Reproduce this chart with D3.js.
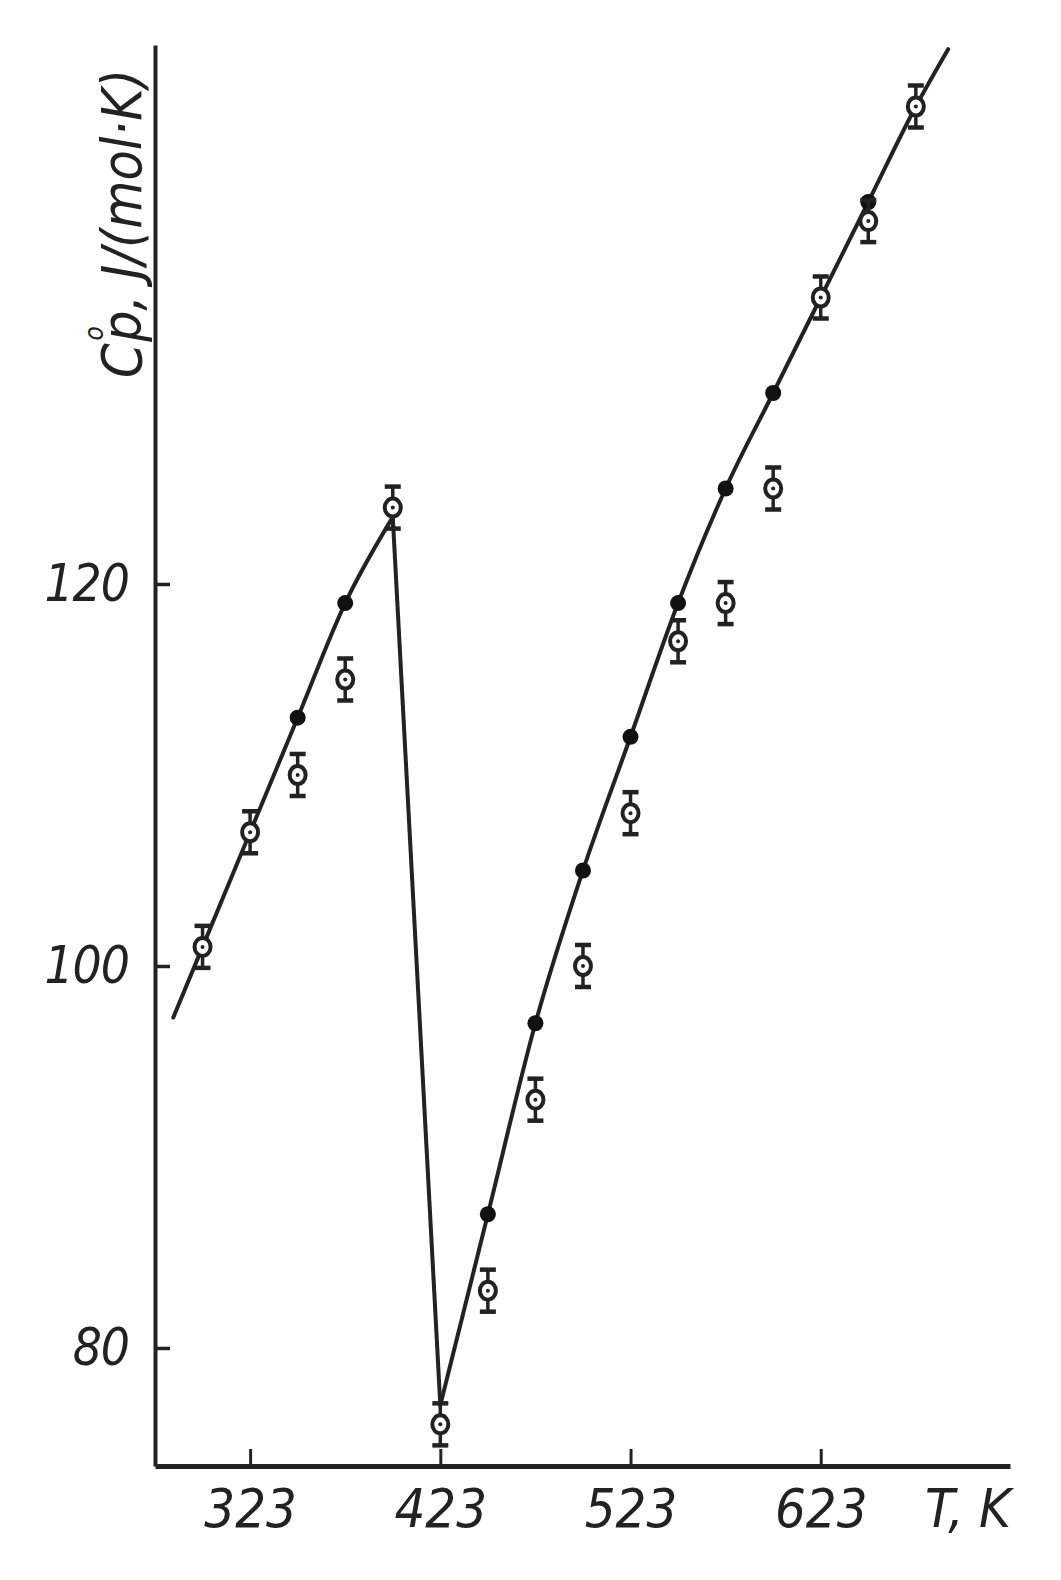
<!DOCTYPE html>
<html>
<head>
  <meta charset="utf-8">
  <title>Cp vs T</title>
  <script src="https://cdn.jsdelivr.net/npm/d3@7"></script>
  <style>
    body { margin: 0; background: #fff; }
    svg text {
      font-family: "Liberation Sans Narrow", "DejaVu Sans Condensed", "Arial Narrow", sans-serif;
      font-style: italic;
      fill: #222;
    }
  </style>
</head>
<body>
  <div id="chart"></div>
  <script>
    // open circles with error bars (experimental)
    const tempsOpen = [298, 323, 348, 373, 398, 423, 448, 473, 498, 523, 548, 573, 598, 623, 648, 673];
    const cpOpen    = [101, 107, 110, 115, 124, 76, 83, 93, 100, 108, 117, 119, 125, 135, 139, 145];
    const cpErr     = [1.1, 1.1, 1.1, 1.1, 1.1, 1.1, 1.1, 1.1, 1.1, 1.1, 1.1, 1.1, 1.1, 1.1, 1.1, 1.1];

    // filled dots
    const tempsSolid = [348, 373, 448, 473, 498, 523, 548, 573, 598, 648];
    const cpSolid    = [113, 119, 87, 97, 105, 112, 119, 125, 130, 140];

    // curve: left branch, then sharp drop, then right branch
    const lineLeftT  = [282.6, 298, 323, 348, 373, 398];
    const lineLeftCp = [97.3, 101, 107, 113, 119, 123.5];
    const lineRightT  = [423, 448, 473, 498, 523, 548, 573, 598, 623, 648, 673, 690];
    const lineRightCp = [77, 87, 97, 105, 112, 119, 125, 130, 135, 140, 145, 148];

    const xTicks = [323, 423, 523, 623];
    const yTicks = [80, 100, 120];

    const width = 1061, height = 1580;
    const ink = "#222";

    const x = d3.scaleLinear().domain([273, 722.5]).range([155, 1010]);
    const y = d3.scaleLinear().domain([73.82, 148.22]).range([1466, 45]);

    const svg = d3.select("#chart").append("svg")
        .attr("width", width)
        .attr("height", height);

    // x axis, ticks pointing up
    const gx = svg.append("g")
        .attr("transform", `translate(0,${y.range()[0]})`)
        .call(d3.axisBottom(x).tickValues(xTicks).tickSize(-17).tickSizeOuter(0).tickFormat(d3.format("d")));
    gx.select(".domain").attr("stroke", ink).attr("stroke-width", 5);
    gx.selectAll(".tick line").attr("stroke", ink).attr("stroke-width", 3);
    gx.selectAll(".tick text")
        .attr("y", 61).attr("dy", 0)
        .attr("font-size", 54)
        .attr("font-family", null);

    // y axis, ticks pointing right
    const gy = svg.append("g")
        .attr("transform", `translate(${x.range()[0]},0)`)
        .call(d3.axisLeft(y).tickValues(yTicks).tickSize(-15).tickSizeOuter(0));
    gy.select(".domain").attr("stroke", ink).attr("stroke-width", 4);
    gy.selectAll(".tick line").attr("stroke", ink).attr("stroke-width", 3.5);
    gy.selectAll(".tick text")
        .attr("x", -26).attr("dy", "0.33em")
        .attr("font-size", 51)
        .attr("letter-spacing", -1)
        .attr("font-family", null);

    // axis titles
    svg.append("text")
        .attr("x", 925).attr("y", 1527)
        .attr("font-size", 54)
        .text("T, K");

    const ylab = svg.append("text")
        .attr("transform", "translate(141,378) rotate(-90)")
        .attr("font-size", 55);
    ylab.append("tspan").text("C");
    ylab.append("tspan").attr("font-size", 26).attr("dy", -38).attr("dx", 3).text("o");
    ylab.append("tspan").attr("dy", 38).attr("dx", -16).text("p, J/(mol·K)");

    // curve
    const lineGen = d3.line().x(d => x(d[0])).y(d => y(d[1])).curve(d3.curveMonotoneX);
    const left = lineLeftT.map((t, i) => [t, lineLeftCp[i]]);
    const right = lineRightT.map((t, i) => [t, lineRightCp[i]]);
    const drop = [left[left.length - 1], right[0]];

    [left, right].forEach(seg => {
      svg.append("path").attr("d", lineGen(seg))
        .attr("fill", "none").attr("stroke", ink).attr("stroke-width", 4)
        .attr("stroke-linecap", "round");
    });
    svg.append("path").attr("d", d3.line().x(d => x(d[0])).y(d => y(d[1]))(drop))
      .attr("fill", "none").attr("stroke", ink).attr("stroke-width", 4);

    // filled dots
    svg.selectAll(".solid")
      .data(tempsSolid.map((t, i) => ({ t, cp: cpSolid[i] })))
      .enter().append("circle")
      .attr("class", "solid")
      .attr("cx", d => x(d.t)).attr("cy", d => y(d.cp))
      .attr("r", 8).attr("fill", "#111");

    // open circles with error bars
    const open = svg.selectAll(".open")
      .data(tempsOpen.map((t, i) => ({ t, cp: cpOpen[i], err: cpErr[i] })))
      .enter().append("g")
      .attr("class", "open")
      .attr("transform", d => `translate(${x(d.t)},0)`);

    open.append("line")
      .attr("y1", d => y(d.cp + d.err)).attr("y2", d => y(d.cp - d.err))
      .attr("stroke", ink).attr("stroke-width", 3.5);
    open.append("line")
      .attr("x1", -8).attr("x2", 8)
      .attr("y1", d => y(d.cp + d.err)).attr("y2", d => y(d.cp + d.err))
      .attr("stroke", ink).attr("stroke-width", 4.5);
    open.append("line")
      .attr("x1", -8).attr("x2", 8)
      .attr("y1", d => y(d.cp - d.err)).attr("y2", d => y(d.cp - d.err))
      .attr("stroke", ink).attr("stroke-width", 4.5);
    open.append("ellipse")
      .attr("cy", d => y(d.cp))
      .attr("rx", 8).attr("ry", 9)
      .attr("fill", "#fff").attr("stroke", ink).attr("stroke-width", 4);
    open.append("circle")
      .attr("cy", d => y(d.cp))
      .attr("r", 2).attr("fill", ink);
  </script>
</body>
</html>
